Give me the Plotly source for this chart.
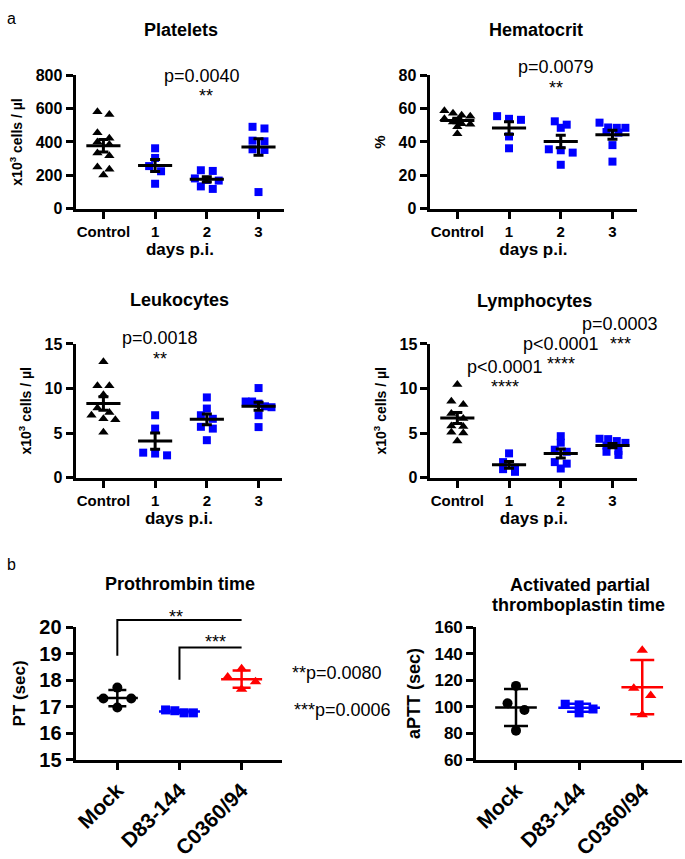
import numpy as np
import plotly.graph_objects as go

W, H = 685, 859
FONT = "Liberation Sans, Arial, sans-serif"
BLUE = "#0000FF"
RED = "#FF0000"
BLACK = "#000000"

# ---------------- data ----------------
days_labels = ["Control", "1", "2", "3"]
platelets_control = [582, 565, 456, 423, 400, 385, 333, 317, 249, 236, 201]
platelets_d1 = [362, 304, 255, 224, 149]
platelets_d2 = [230, 226, 181, 172, 168, 133, 118]
platelets_d3 = [491, 481, 408, 404, 356, 352, 99]

hct_control = [58.8, 57.2, 56.0, 55.5, 54.0, 52.0, 51.0, 50.7, 49.1, 44.9]
hct_d1 = [55.5, 53.9, 53.3, 43.3, 36.2]
hct_d2 = [52.4, 50.4, 48.5, 35.6, 35.0, 33.6, 26.3]
hct_d3 = [51.6, 48.7, 48.5, 48.5, 46.0, 45.6, 38.1, 28.2]

leuk_control = [13.0, 10.3, 10.3, 9.3, 7.8, 7.3, 7.0, 6.6, 6.5, 5.1]
leuk_d1 = [7.0, 5.5, 2.8, 2.7, 2.5]
leuk_d2 = [9.0, 7.75, 7.0, 6.6, 5.7, 5.5, 4.2]
leuk_d3 = [10.05, 8.54, 8.54, 8.3, 8.0, 7.9, 7.0, 5.67]

lymph_control = [10.45, 8.57, 8.2, 7.2, 6.64, 5.8, 5.74, 5.08, 5.0, 4.1]
lymph_d1 = [2.72, 1.74, 1.1, 0.95, 0.65]
lymph_d2 = [4.65, 3.92, 3.13, 2.9, 1.74, 1.57, 1.02]
lymph_d3 = [4.36, 4.32, 4.1, 3.9, 3.6, 3.0, 2.9, 2.55]

strain_labels = ["Mock", "D83-144", "C0360/94"]
pt_mock = [17.72, 17.31, 17.31, 16.97]
pt_d83 = [16.88, 16.85, 16.77, 16.77]
pt_c0360 = [18.43, 18.12, 17.94, 17.66]

aptt_mock = [115.7, 102.6, 97.5, 82.0]
aptt_d83 = [101.9, 101.4, 98.3, 95.4]
aptt_c0360 = [142.5, 114.0, 108.5, 94.0]

platelets_ticks = [0, 200, 400, 600, 800]
hct_ticks = [0, 20, 40, 60, 80]
leuk_ticks = [0, 5, 10, 15]
lymph_ticks = [0, 5, 10, 15]
pt_ticks = [15, 16, 17, 18, 19, 20]
aptt_ticks = [60, 80, 100, 120, 140, 160]

# ---------------- helpers ----------------
def fx(px):
    return px / W

def fy(py):
    return 1 - py / H


def swarm_offsets(vals, unit_px, cat_px, thresh_px, step_px, max_px):
    order = sorted(range(len(vals)), key=lambda k: -vals[k])
    rows = []
    for k in order:
        if rows and (vals[rows[-1][0]] - vals[k]) * unit_px < thresh_px:
            rows[-1].append(k)
        else:
            rows.append([k])
    offs = [0.0] * len(vals)
    for r in rows:
        n = len(r)
        step = step_px if n < 2 else min(step_px, max_px / (n - 1))
        for j, k in enumerate(r):
            offs[k] = (j - (n - 1) / 2) * step / cat_px
    return offs


top_styles = [("triangle-up", BLACK, 9), ("square", BLUE, 8), ("square", BLUE, 8), ("square", BLUE, 8)]
b_styles = [("circle", BLACK, 10), ("square", BLUE, 9), ("triangle-up", RED, 10)]

yt_cells = "<b>x10<sup>3</sup> cells / µl</b>"

panels = [
    dict(cats=days_labels, groups=[platelets_control, platelets_d1, platelets_d2, platelets_d3],
         xpx=(72, 282), ypx=(66.7, 204.7), xr=[-0.538, 3.5], yr=[0, 800], ticks=platelets_ticks,
         ytitle=yt_cells, ytsize=14, xtitle="<b>days p.i.</b>", kind="top"),
    dict(cats=days_labels, groups=[hct_control, hct_d1, hct_d2, hct_d3],
         xpx=(428, 637), ypx=(66.7, 204.7), xr=[-0.538, 3.48], yr=[0, 80], ticks=hct_ticks,
         ytitle="<b>%</b>", ytsize=15, xtitle="<b>days p.i.</b>", kind="top"),
    dict(cats=days_labels, groups=[leuk_control, leuk_d1, leuk_d2, leuk_d3],
         xpx=(72, 280), ypx=(345, 483.5), xr=[-0.538, 3.46], yr=[0, 15], ticks=leuk_ticks,
         ytitle=yt_cells, ytsize=14, xtitle="<b>days p.i.</b>", kind="top"),
    dict(cats=days_labels, groups=[lymph_control, lymph_d1, lymph_d2, lymph_d3],
         xpx=(429, 637), ypx=(345, 483.5), xr=[-0.519, 3.48], yr=[0, 15], ticks=lymph_ticks,
         ytitle=yt_cells, ytsize=14, xtitle="<b>days p.i.</b>", kind="top"),
    dict(cats=strain_labels, groups=[pt_mock, pt_d83, pt_c0360],
         xpx=(72, 280), ypx=(638.3, 776), xr=[-0.672, 2.656], yr=[15, 20], ticks=pt_ticks,
         ytitle="<b>PT (sec)</b>", ytsize=17, xtitle=None, kind="b", tfs=20, step=28, cap=9),
    dict(cats=strain_labels, groups=[aptt_mock, aptt_d83, aptt_c0360],
         xpx=(475, 682), ypx=(638.3, 776), xr=[-0.63, 2.63], yr=[60, 160], ticks=aptt_ticks,
         ytitle="<b>aPTT (sec)</b>", ytsize=18, xtitle=None, kind="b", tfs=17, step=17, cap=12),
]

fig = go.Figure()
layout = dict(
    width=W, height=H, margin=dict(l=0, r=0, t=0, b=0),
    paper_bgcolor="white", plot_bgcolor="white", showlegend=False,
    font=dict(family=FONT, color=BLACK),
)

for n, p in enumerate(panels, 1):
    xs = "" if n == 1 else str(n)
    xid, yid = "x" + xs, "y" + xs
    x0, x1 = p["xpx"]
    ytop, ybot = p["ypx"]
    cat_px = (x1 - x0) / (p["xr"][1] - p["xr"][0])
    unit_px = (ybot - ytop) / (p["yr"][1] - p["yr"][0])
    top = p["kind"] == "top"
    styles = top_styles if top else b_styles
    lw = 3 if top else 2.5
    hw = 0.33

    for i, vals in enumerate(p["groups"]):
        sym, col, ms = styles[i]
        v = np.array(vals, dtype=float)
        if top:
            offs = swarm_offsets(vals, unit_px, cat_px, 6, 12, 26)
        else:
            offs = swarm_offsets(vals, unit_px, cat_px, 8, p["step"], 28)
        fig.add_trace(go.Scatter(
            x=[i + o for o in offs], y=vals, mode="markers", xaxis=xid, yaxis=yid,
            marker=dict(symbol=sym, color=col, size=ms, line=dict(width=0)),
            cliponaxis=False, hoverinfo="skip"))
        mean = float(v.mean())
        if top:
            err = float(v.std(ddof=1) / np.sqrt(len(v)))
            lc = BLACK
            cap = 5
        else:
            err = float(v.std(ddof=1))
            lc = col
            cap = p["cap"]
        fig.add_trace(go.Scatter(
            x=[i - hw, i + hw], y=[mean, mean], mode="lines", xaxis=xid, yaxis=yid,
            line=dict(color=lc, width=lw), hoverinfo="skip"))
        fig.add_trace(go.Scatter(
            x=[i], y=[mean], mode="markers", xaxis=xid, yaxis=yid,
            marker=dict(size=1, color="rgba(0,0,0,0)"),
            error_y=dict(type="data", array=[err], symmetric=True, color=lc,
                         thickness=lw, width=cap),
            hoverinfo="skip"))

    tfs = 16 if top else p["tfs"]
    xaxis = dict(
        domain=[fx(x0), fx(x1)], range=p["xr"], anchor=yid,
        tickvals=list(range(len(p["cats"]))), ticktext=p["cats"],
        showline=True, linewidth=3, linecolor=BLACK, mirror=False,
        ticks="outside", ticklen=7, tickwidth=3, tickcolor=BLACK,
        showgrid=False, zeroline=False, fixedrange=True,
        tickfont=dict(family=FONT, size=15 if top else 21, weight="bold", color=BLACK),
    )
    if not top:
        xaxis["tickangle"] = -45
    if p["xtitle"]:
        xaxis["title"] = dict(text=p["xtitle"], font=dict(family=FONT, size=17, color=BLACK), standoff=0)
    yaxis = dict(
        domain=[fy(ybot), fy(ytop)], range=p["yr"], anchor=xid,
        tickvals=p["ticks"],
        showline=True, linewidth=3, linecolor=BLACK,
        ticks="outside", ticklen=7, tickwidth=3, tickcolor=BLACK,
        showgrid=False, zeroline=False, fixedrange=True,
        tickfont=dict(family=FONT, size=tfs, weight="bold", color=BLACK),
        title=dict(text=p["ytitle"], font=dict(family=FONT, size=p["ytsize"], color=BLACK), standoff=10),
    )
    layout["xaxis" + xs] = xaxis
    layout["yaxis" + xs] = yaxis

# ---------------- significance brackets (panel b, PT) ----------------
shapes = [
    dict(type="path", xref="x5", yref="paper",
         path=f"M 0,{fy(668)} L 0,{fy(631)} L 2,{fy(631)}",
         line=dict(color=BLACK, width=2)),
    dict(type="path", xref="x5", yref="paper",
         path=f"M 1,{fy(693)} L 1,{fy(659.5)} L 2,{fy(659.5)}",
         line=dict(color=BLACK, width=2)),
]
layout["shapes"] = shapes

# ---------------- text annotations ----------------
def txt(text, x, y, size, bold=False, xanchor="center"):
    return dict(text=f"<b>{text}</b>" if bold else text, x=fx(x), y=fy(y),
                xref="paper", yref="paper", showarrow=False, xanchor=xanchor,
                yanchor="middle", font=dict(family=FONT, size=size, color=BLACK))

ann = [
    txt("a", 8, 8, 16), txt("b", 8, 574, 16),
    txt("Platelets", 178, 20, 18, True), txt("Hematocrit", 535, 20, 18, True),
    txt("Leukocytes", 177, 299, 18, True), txt("Lymphocytes", 534, 301, 18, True),
    txt("Prothrombin time", 177, 594, 18, True),
    txt("Activated partial", 579, 595, 18, True), txt("thromboplastin time", 578, 615, 18, True),
    txt("p=0.0040", 199, 67, 18), txt("**", 203, 88, 18),
    txt("p=0.0079", 555, 58, 18), txt("**", 555, 80, 18),
    txt("p=0.0018", 157, 339, 18), txt("**", 157, 361, 18),
    txt("p<0.0001", 504, 369, 18), txt("****", 504, 390, 18),
    txt("p<0.0001", 560, 345, 18), txt("****", 560, 366, 18),
    txt("p=0.0003", 620, 324, 18), txt("***", 620, 345, 18),
    txt("**", 173.5, 628, 18), txt("***", 213, 654, 18),
    txt("**p=0.0080", 288, 686, 18, xanchor="left"),
    txt("***p=0.0006", 290, 724, 18, xanchor="left"),
]
layout["annotations"] = ann

fig.update_layout(**layout)
fig.write_html(
    "out.html",
    config={"displayModeBar": False, "staticPlot": True},
    post_script="document.body.style.margin='0px';document.body.style.overflow='hidden';",
)
